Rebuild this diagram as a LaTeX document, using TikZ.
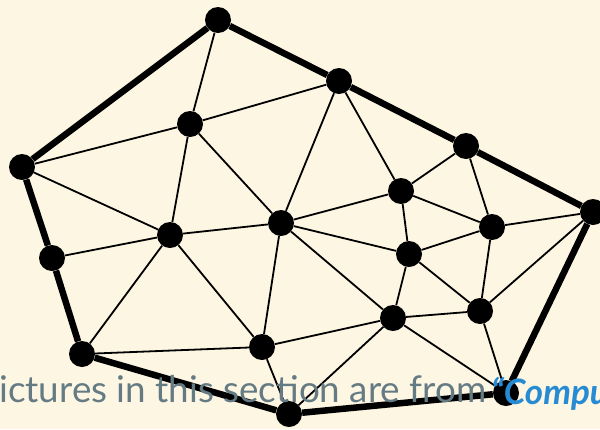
\documentclass[tikz,border=0pt]{standalone}
\usepackage{fontspec}
\setmainfont{Lato}
\usepackage{xcolor}
\usepackage{tikz}
\usetikzlibrary{positioning}
\definecolor{paper}{HTML}{FDF6E3}
\definecolor{slatetext}{HTML}{657B83}
\definecolor{linkblue}{HTML}{268BD2}
\tikzset{
  vertex/.style={circle, fill=black, draw=none, minimum size=26pt, inner sep=0pt},
  hull/.style={line width=6.5pt, draw=black},
  edge/.style={line width=1.8pt, draw=black},
  caption/.style={font=\fontsize{36.8}{40}\selectfont, text=slatetext, inner sep=0pt},
  source/.style={font=\fontsize{35}{38}\selectfont\bfseries\itshape, text=linkblue, inner sep=0pt},
}
\begin{document}
\begin{tikzpicture}[x=1pt, y=-1pt]
  \fill[paper] (0,0) rectangle (600,429);
  \useasboundingbox (0,0) rectangle (600,429);
  % vertices
  \node[vertex] (a) at (218,20) {};
  \node[vertex] (b) at (339,81) {};
  \node[vertex] (c) at (466,146) {};
  \node[vertex] (d) at (593,212) {};
  \node[vertex] (e) at (506,393) {};
  \node[vertex] (f) at (289,414) {};
  \node[vertex] (g) at (82,354) {};
  \node[vertex] (h) at (52,258) {};
  \node[vertex] (i) at (22,167) {};
  \node[vertex] (j) at (190,124) {};
  \node[vertex] (k) at (170,235) {};
  \node[vertex] (l) at (281,223) {};
  \node[vertex] (m) at (401,191) {};
  \node[vertex] (n) at (492,227) {};
  \node[vertex] (o) at (409,254) {};
  \node[vertex] (p) at (480,311) {};
  \node[vertex] (q) at (393,318) {};
  \node[vertex] (r) at (262,347) {};
  % outer boundary
  \draw[hull] (a) -- (b) (b) -- (c) (c) -- (d) (d) -- (e) (e) -- (f)
    (f) -- (g) (g) -- (h) (h) -- (i) (i) -- (a);
  % inner edges
  \draw[edge] (a) -- (j) (i) -- (j) (i) -- (k) (h) -- (k) (g) -- (k) (g) -- (r)
    (j) -- (b) (j) -- (k) (j) -- (l) (k) -- (l) (k) -- (r)
    (b) -- (l) (b) -- (m) (l) -- (m) (l) -- (o) (l) -- (q) (l) -- (r)
    (r) -- (q) (r) -- (f) (q) -- (f) (q) -- (e) (q) -- (o) (q) -- (p)
    (p) -- (e) (p) -- (o) (p) -- (n) (p) -- (d)
    (n) -- (d) (n) -- (c) (n) -- (o) (n) -- (m) (m) -- (c) (m) -- (o);
  % caption over the graph
  \node[caption, anchor=base west] (cap) at (-1,402) {ictures in this section are from};
  \node[source, anchor=base west] (src) at (491,404) {“Compu};
\end{tikzpicture}
\end{document}
